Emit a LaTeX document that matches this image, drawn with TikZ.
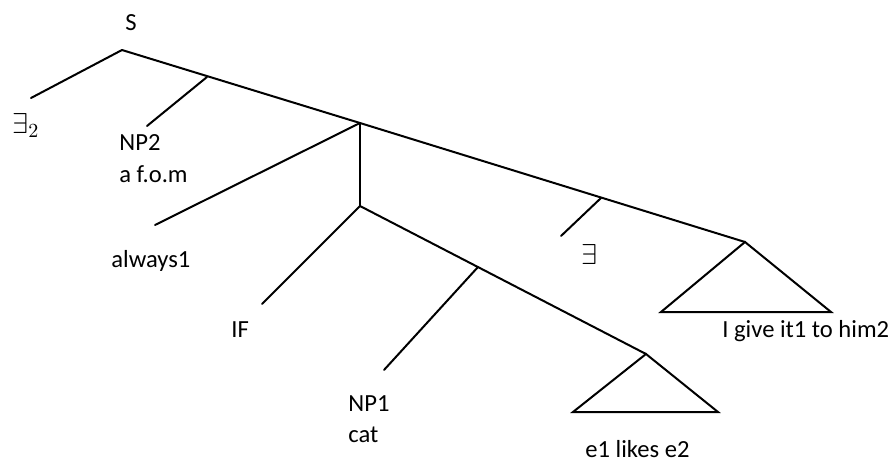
\documentclass[tikz,border=0pt]{standalone}
\usepackage{fontspec}
\setmainfont{Carlito}
\usetikzlibrary{positioning}

\begin{document}
\begin{tikzpicture}[x=0.5pt, y=-0.5pt,
  branch/.style={line width=1pt, line cap=round},
  tri/.style={line width=1pt, line join=miter},
  lab/.style={inner sep=0pt, font=\fontsize{12.3}{15}\selectfont},
  qlab/.style={inner sep=0pt, font=\fontsize{14.5}{17}\selectfont}]
  \useasboundingbox (0,0) rectangle (896,461);

  % junctions and branch ends
  \coordinate (root)    at (122,50);
  \coordinate (e2 end)  at (31,98);
  \coordinate (np2 j)   at (207,77);
  \coordinate (np2 end) at (147,126);
  \coordinate (mid)     at (360,123);
  \coordinate (alw end) at (155,225);
  \coordinate (low)     at (360,206);
  \coordinate (if end)  at (262,304);
  \coordinate (np1 j)   at (478,267);
  \coordinate (np1 end) at (384,370);
  \coordinate (ex j)    at (601,198);
  \coordinate (ex end)  at (561,236);
  \coordinate (top 1)   at (646,354);
  \coordinate (top 2)   at (745,242);

  % labels
  \node[lab, anchor=base]       (s)     at (131,30)  {S};
  \node[qlab, anchor=base west] (e2)    at (12,133)  {$\exists_2$};
  \node[lab, anchor=base west]  (np2)   at (119,150) {NP2};
  \node[lab, anchor=base west]  (fom)   at (119,182) {a f.o.m};
  \node[lab, anchor=base west]  (alw)   at (111,267) {always1};
  \node[lab, anchor=base west]  (if)    at (231,337) {IF};
  \node[lab, anchor=base west]  (np1)   at (348,411) {NP1};
  \node[lab, anchor=base west]  (cat)   at (348,442) {cat};
  \node[qlab, anchor=base]      (ex)    at (589,264) {$\exists$};
  \node[lab, anchor=base west]  (likes) at (585,457) {e1 likes e2};
  \node[lab, anchor=base west]  (give)  at (722,337) {I give it1 to him2};

  % tree
  \draw[branch] (root) -- (e2 end);
  \draw[branch] (root) -- (mid) -- (top 2);
  \draw[branch] (np2 j) -- (np2 end);
  \draw[branch] (mid) -- (alw end);
  \draw[branch] (mid) -- (low);
  \draw[branch] (low) -- (if end);
  \draw[branch] (low) -- (top 1);
  \draw[branch] (np1 j) -- (np1 end);
  \draw[branch] (ex j) -- (ex end);

  % triangles
  \draw[tri] (top 1) -- (573,412) -- (718,412) -- cycle;
  \draw[tri] (top 2) -- (661,312) -- (831,312) -- cycle;
\end{tikzpicture}
\end{document}
